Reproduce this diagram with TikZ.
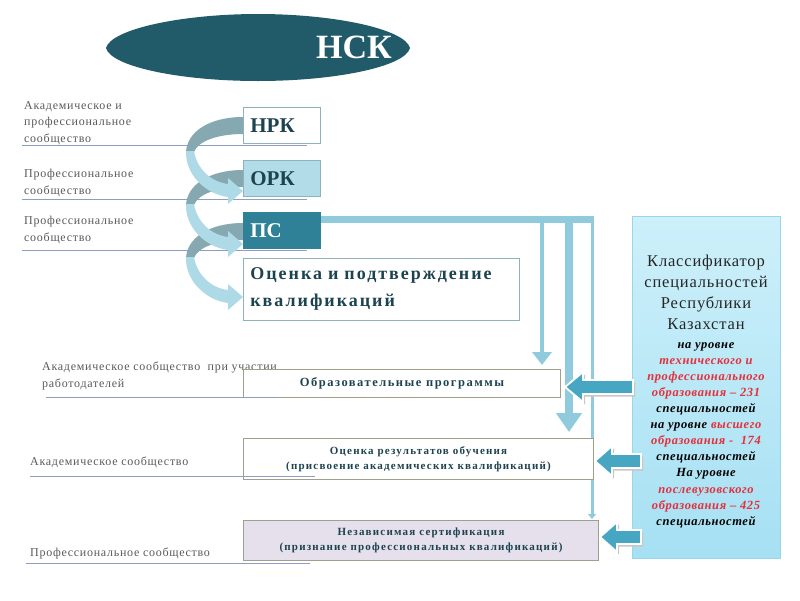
\documentclass[tikz,border=0pt]{standalone}
\usepackage{fontspec}
\setmainfont{Liberation Serif}
\newfontfamily\lblfont[LetterSpace=6]{Liberation Serif}
\newfontfamily\ocpfont[LetterSpace=11]{Liberation Serif}
\newfontfamily\lowfont[LetterSpace=12]{Liberation Serif}
\newfontfamily\clsbig[LetterSpace=5]{Liberation Serif}
\newfontfamily\clssmall[LetterSpace=5]{Liberation Serif}
\usetikzlibrary{arrows.meta,calc}
\definecolor{nsk}{HTML}{215A68}
\definecolor{psfill}{HTML}{2E8197}
\definecolor{orkfill}{HTML}{B2DDE8}
\definecolor{boxline}{HTML}{8FB2BE}
\definecolor{olive}{HTML}{A0A088}
\definecolor{lav}{HTML}{E5E0EC}
\definecolor{band}{HTML}{8FCBDD}
\definecolor{curldark}{HTML}{86A9B1}
\definecolor{curllight}{HTML}{AEDAE7}
\definecolor{arr}{HTML}{47A7C3}
\definecolor{ktxt}{HTML}{1E4350}
\definecolor{gtxt}{HTML}{595959}
\definecolor{lline}{HTML}{8C9FC0}
\definecolor{redt}{HTML}{E2303C}
\definecolor{rbox1}{HTML}{CDF0FA}
\definecolor{rbox2}{HTML}{A6E0F3}
\definecolor{rline}{HTML}{9AD5E8}
\newcommand\mycurldark[1]{%
  \begin{scope}[shift={(0,#1)}]
    \fill[curldark] (243,10) .. controls (209,10) and (187,25) .. (186,45)
      -- (194,45) .. controls (198,34) and (218,27) .. (243,27) -- cycle;
  \end{scope}}
\newcommand\mycurllight[1]{%
  \begin{scope}[shift={(0,#1)}]
    \fill[curllight] (186,44) .. controls (185,67) and (205,87) .. (228,90)
      -- (228,97) -- (243,84) -- (228,71) -- (228,77)
      .. controls (211,75) and (197,62) .. (194,44) -- cycle;
  \end{scope}}
\newcommand\myarrshape[4]{% tip x, tip y, base x, end x
  (#1,#2) -- (#3,#2-15) -- (#3,#2-7) -- (#4,#2-7) -- (#4,#2+7) -- (#3,#2+7) -- (#3,#2+15) -- cycle}
\newcommand\myleftarr[4]{%
  \begin{scope}[shift={(2,2.5)}]
    \fill[black!22] \myarrshape{#1}{#2}{#3}{#4};
  \end{scope}
  \filldraw[fill=arr,draw=white,line width=1.8,line join=miter] \myarrshape{#1}{#2}{#3}{#4};}
\begin{document}
\begin{tikzpicture}[x=1pt,y=-1pt,
  lbl/.style={font=\lblfont\fontsize{12}{16.5}\selectfont, text=gtxt, align=left, inner sep=0, anchor=north west},
  topbox/.style={draw=boxline, line width=0.8, anchor=north west, minimum height=36, text width=63, inner xsep=7, align=left, font=\fontsize{21}{24}\selectfont\bfseries, text=ktxt},
  lowbox/.style={draw=olive, line width=1, anchor=north west, align=center, font=\lowfont\fontsize{12.5}{16}\selectfont\bfseries, text=ktxt, inner sep=0},
  lowbox2/.style={lowbox, font=\ocpfont\fontsize{11}{15}\selectfont\bfseries},
  sepline/.style={draw=lline, line width=0.8},
  flow/.style={draw=band}]
\useasboundingbox (0,0) rectangle (800,600);

% ellipse
\fill[nsk] (106,48) .. controls (111,29) and (182,14) .. (258,14)
  .. controls (334,14) and (405,29) .. (410,48)
  .. controls (405,67) and (334,81) .. (258,81)
  .. controls (182,81) and (111,67) .. (106,48) -- cycle;
\node[font=\fontsize{34}{36}\selectfont\bfseries, text=white, inner sep=0] (nsk) at (354,47) {НСК};

% separator lines (upper)
\draw[sepline] (22,145) -- (307,145);
\draw[sepline] (22,199) -- (307,199);
\draw[sepline] (22,250) -- (307,250);

% curls
\mycurldark{107}\mycurldark{160}\mycurldark{213}
\mycurllight{107}\mycurllight{160}\mycurllight{213}

% left labels
\node[lbl] (l1) at (24,101) {Академическое и\\профессиональное\\сообщество};
\node[lbl] (l2) at (24,169) {Профессиональное\\сообщество};
\node[lbl] (l3) at (24,216) {Профессиональное\\сообщество};

% top boxes
\node[topbox, fill=white] (nrk) at (243,107) {НРК};
\node[topbox, fill=orkfill] (ork) at (243,160) {ОРК};
\node[topbox, fill=psfill, draw=psfill, text=white] (ps) at (243,212) {ПС};
\node[topbox, fill=white, text width=262, minimum height=62, font=\ocpfont\fontsize{18}{27}\selectfont\bfseries] (ocp) at (243,258) {Оценка и подтверждение\\квалификаций};

% flow lines from ПС
\coordinate (b0) at ($(ps.north east)+(0,7)$);
\coordinate (b1) at (594,219);
\draw[flow, line width=7] (b0) -- (b1);
\draw[flow, line width=4, -{Triangle[width=19pt,length=13pt]}] (542,219) -- (542,365);
\draw[flow, line width=7.5, -{Triangle[width=25pt,length=19pt]}] (569,219) -- (569,432);
\draw[flow, line width=3, -{Triangle[width=8pt,length=5pt]}] (592,219) -- (592,519);

% lower labels and lines
\node[lbl] (l4) at (42,362) {Академическое сообщество \ при участии\\работодателей};
\node[lbl] (l5) at (30,457) {Академическое сообщество};
\node[lbl] (l6) at (30,548) {Профессиональное сообщество};

% lower boxes
\node[lowbox, fill=white, minimum width=317, minimum height=28] (op) at (243,369) {Образовательные программы};
\node[lowbox2, fill=white, minimum width=350, minimum height=41] (oro) at (243,438) {Оценка результатов обучения\\(присвоение академических квалификаций)};
\node[lowbox2, fill=lav, minimum width=355, minimum height=40] (ns) at (243,520) {Независимая сертификация\\(признание профессиональных квалификаций)};

\draw[sepline] (46,397) -- (280,397);
\draw[sepline] (30,476) -- (315,476);
\draw[sepline] (26,563) -- (310,563);

% right classifier box
\node[draw=rline, line width=1, top color=rbox1, bottom color=rbox2, anchor=north west,
      minimum width=148, minimum height=342, inner sep=0] (cls) at (632,216) {};
\node[align=center, font=\clsbig\fontsize{16.5}{21}\selectfont, text=black!85, inner sep=0] (clst) at (706,292)
  {Классификатор\\специальностей\\Республики\\Казахстан};
\node[align=center, font=\clssmall\fontsize{12.5}{16.1}\selectfont\bfseries\itshape, inner sep=0] (clsd) at (706,435)
  {на уровне\\
   \textcolor{redt}{технического и}\\
   \textcolor{redt}{профессионального}\\
   \textcolor{redt}{образования – 231}\\
   специальностей\\
   на уровне \textcolor{redt}{высшего}\\
   \textcolor{redt}{образования - \ 174}\\
   специальностей\\
   На уровне\\
   \textcolor{redt}{послевузовского}\\
   \textcolor{redt}{образования – 425}\\
   специальностей};

% left pointing arrows
\myleftarr{565}{387}{583}{633}
\myleftarr{595}{461}{612}{641}
\myleftarr{600}{537}{617}{641}
\end{tikzpicture}
\end{document}
